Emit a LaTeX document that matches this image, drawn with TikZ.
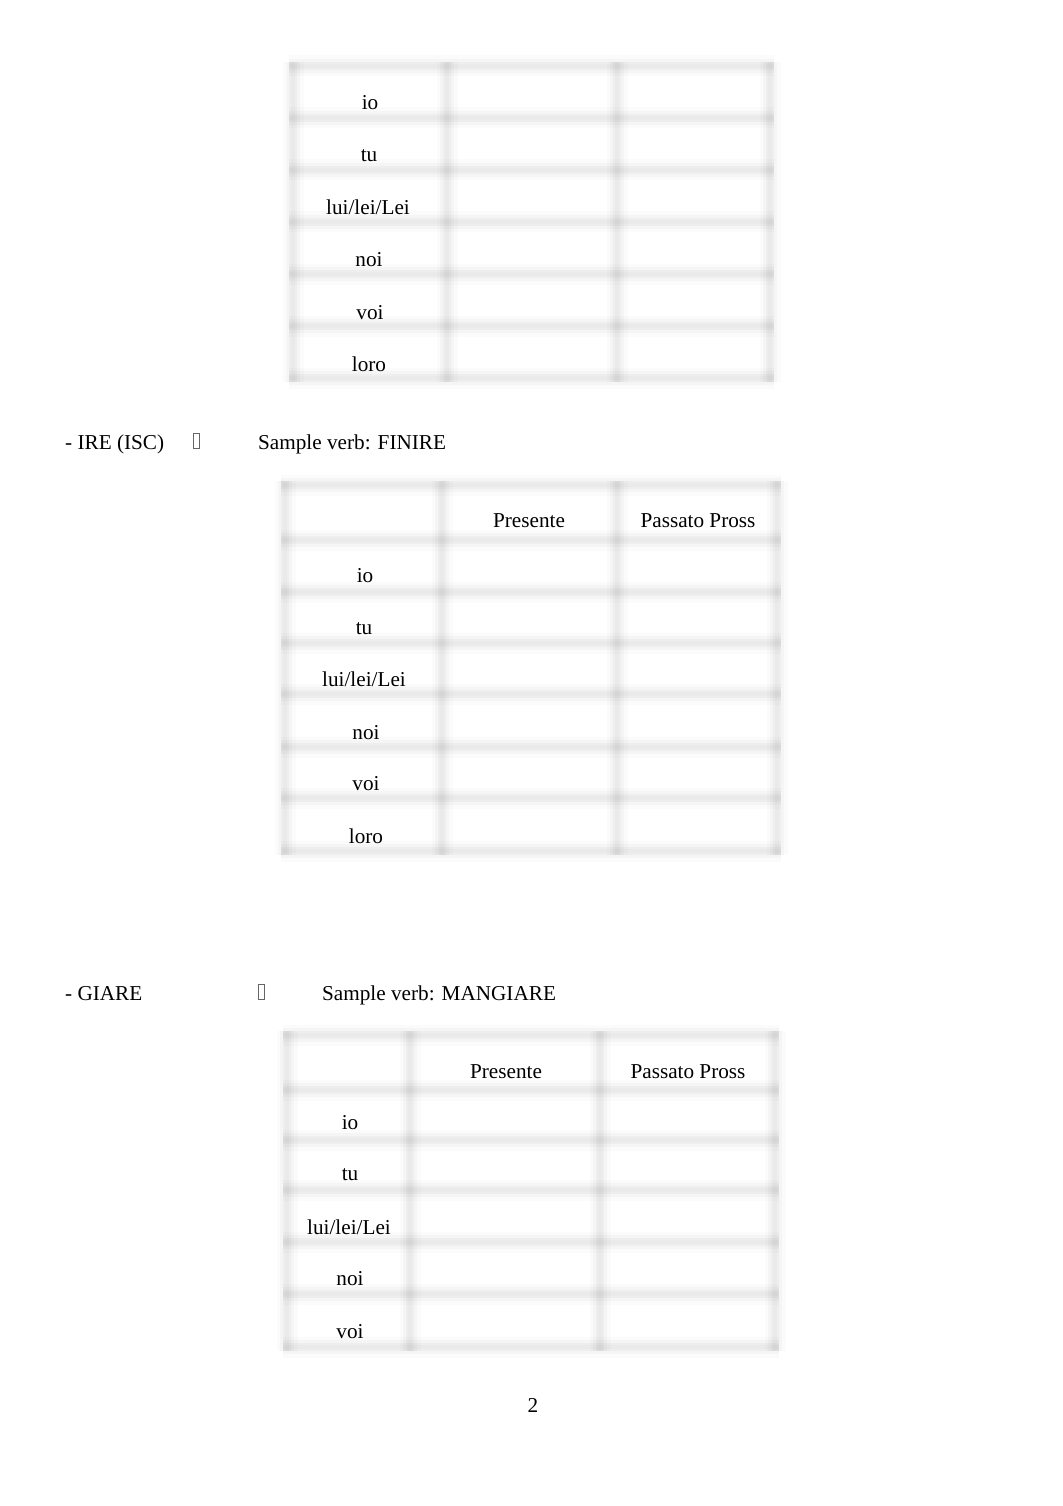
\documentclass[tikz,border=0pt]{standalone}
\usepackage{fontspec}
\setmainfont{Liberation Serif}
\newcommand\softline[2]{%
  \draw[line width=21pt, black, opacity=0.015] #1 -- #2;
  \draw[line width=14pt, black, opacity=0.022] #1 -- #2;
  \draw[line width=8pt, black, opacity=0.028] #1 -- #2;
  \draw[line width=4pt, black, opacity=0.015] #1 -- #2;
}
\newcommand\softgrid[6]{%
  \foreach \xx in {#1} {\softline{(\xx,#5-4)}{(\xx,#6+4)}}
  \foreach \yy in {#2} {\softline{(#3-4,\yy)}{(#4+4,\yy)}}
}
\begin{document}
\begin{tikzpicture}[x=1pt,y=-1pt,
  every node/.style={inner sep=0pt, font=\fontsize{21.2}{25}\selectfont},
  cell/.style={anchor=base},
  hd/.style={anchor=base west},
  tofu/.style={draw=black!60, line width=0.8pt, minimum width=6pt, minimum height=15pt, inner sep=0pt}]
\useasboundingbox[fill=white] (0,0) rectangle (1062,1506);

% ---------- Table 1 ----------
\softgrid{293,447,617,770}{66,118,170,222,274,326,378}{293}{770}{66}{378}
\node[cell] (t1io)  at (370,110) {io};
\node[cell] (t1tu)  at (369,162) {tu};
\node[cell] (t1lui) at (368,215) {lui/lei/Lei};
\node[cell] (t1noi) at (369,266) {noi};
\node[cell] (t1voi) at (370,319) {voi};
\node[cell] (t1loro) at (369,371) {loro};

% ---------- Heading 2 ----------
\node[hd] (h2a) at (65,449) {- IRE (ISC)};
\node[tofu] (h2b) at (196,441) {};
\node[hd] (h2c) at (258,449) {Sample verb: FINIRE};

% ---------- Table 2 ----------
\softgrid{285,442,617,777}{485,540,592,643,694,747,798,851}{285}{777}{485}{851}
\node[cell] (t2p)  at (529,527) {Presente};
\node[cell] (t2pp) at (698,527) {Passato Pross};
\node[cell] (t2io)  at (365,582) {io};
\node[cell] (t2tu)  at (364,634) {tu};
\node[cell] (t2lui) at (364,686) {lui/lei/Lei};
\node[cell] (t2noi) at (366,739) {noi};
\node[cell] (t2voi) at (366,790) {voi};
\node[cell] (t2loro) at (366,843) {loro};

% ---------- Heading 3 ----------
\node[hd] (h3a) at (65,1000) {- GIARE};
\node[tofu] (h3b) at (261,992) {};
\node[hd] (h3c) at (322,1000) {Sample verb: MANGIARE};

% ---------- Table 3 ----------
\softgrid{287,410,600,775}{1035,1090,1140,1190,1242,1294,1347}{287}{775}{1035}{1347}
\node[cell] (t3p)  at (506,1078) {Presente};
\node[cell] (t3pp) at (688,1078) {Passato Pross};
\node[cell] (t3io)  at (350,1129) {io};
\node[cell] (t3tu)  at (350,1180) {tu};
\node[cell] (t3lui) at (349,1234) {lui/lei/Lei};
\node[cell] (t3noi) at (350,1285) {noi};
\node[cell] (t3voi) at (350,1338) {voi};

% ---------- Page number ----------
\node[cell] (pg) at (533,1412) {2};
\end{tikzpicture}
\end{document}
